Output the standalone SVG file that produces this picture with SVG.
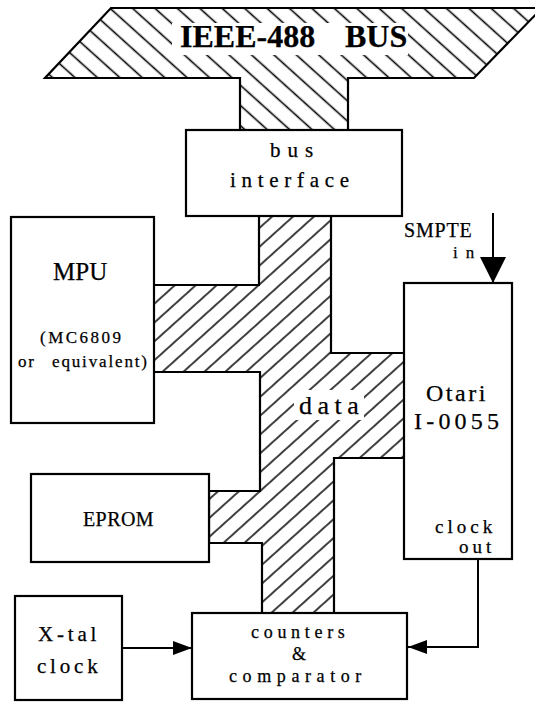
<svg xmlns="http://www.w3.org/2000/svg" width="535" height="702" viewBox="0 0 535 702">
<style>
  .box{fill:#fff;stroke:#000;stroke-width:2.2}
  text{font-family:'Liberation Serif','DejaVu Serif',serif;fill:#000;stroke:#000;stroke-width:0.25}
  .outline{stroke:#000;stroke-width:2.2;stroke-linejoin:miter}
  .wire{fill:none;stroke:#000;stroke-width:2}
</style>
<defs>
  <pattern id="hatchBus" patternUnits="userSpaceOnUse" width="15" height="15" patternTransform="rotate(42)">
    <line x1="-1" y1="7.5" x2="16" y2="7.5" stroke="#000" stroke-width="1.6"/>
  </pattern>
  <pattern id="hatchData" patternUnits="userSpaceOnUse" width="14" height="14" patternTransform="rotate(-42)">
    <line x1="-1" y1="7" x2="15" y2="7" stroke="#000" stroke-width="1.5"/>
  </pattern>
  <marker id="arr" markerUnits="userSpaceOnUse" viewBox="0 0 19 14" refX="19" refY="7" markerWidth="19" markerHeight="14" orient="auto">
    <path d="M0,0 L19,7 L0,14 z" fill="#000"/>
  </marker>
  <marker id="arrBig" markerUnits="userSpaceOnUse" viewBox="0 0 26 26" refX="26" refY="13" markerWidth="26" markerHeight="26" orient="auto">
    <path d="M0,0 L26,13 L0,26 z" fill="#000"/>
  </marker>
</defs>

<g id="ieee-bus">
  <polygon class="outline" fill="url(#hatchBus)" stroke-width="2.8" points="111,8 542,8 474,78 348,78 348,130 240,130 240,78 45,78"/>
  <rect x="172" y="23" width="236" height="32" fill="#fff"/>
  <text x="180" y="47" font-size="32" font-weight="bold">IEEE-488 <tspan x="345">BUS</tspan></text>
</g>

<g id="data-bus">
  <polygon class="outline" fill="url(#hatchData)" points="259,215 259,285 153,285 153,372 260,372 260,491 209,491 209,543 262,543 262,613 334,613 334,458 405,458 405,353 331,353 331,215"/>
  <rect x="294" y="390" width="70" height="30" fill="#fff"/>
  <text x="299" y="414" font-size="26" letter-spacing="5.5">data</text>
</g>

<g id="connectors">
  <line class="wire" x1="493" y1="213" x2="493" y2="283" stroke-width="3" marker-end="url(#arrBig)"/>
  <line class="wire" x1="122" y1="648" x2="192" y2="648" marker-end="url(#arr)"/>
  <polyline class="wire" points="478,559 478,647 408,647" marker-end="url(#arr)"/>
</g>

<g id="bus-interface">
  <rect class="box" x="186" y="130" width="216" height="86"/>
  <text x="270" y="157" font-size="21" letter-spacing="7">bus</text>
  <text x="230" y="187" font-size="21" letter-spacing="5.7">interface</text>
</g>

<g id="mpu">
  <rect class="box" x="11" y="217" width="143" height="206"/>
  <text x="53" y="280" font-size="25">MPU</text>
  <text x="40" y="343" font-size="17" letter-spacing="2.5">(MC6809</text>
  <text x="18" y="367" font-size="17" letter-spacing="1.85">or<tspan x="52">equivalent)</tspan></text>
</g>

<g id="eprom">
  <rect class="box" x="31" y="474" width="178" height="88"/>
  <text x="83" y="526" font-size="20" letter-spacing="0.4" stroke-width="0.4">EPROM</text>
</g>

<g id="otari">
  <rect class="box" x="404" y="283" width="108" height="276"/>
  <text x="426" y="401" font-size="24" letter-spacing="2.5">Otari</text>
  <text x="414" y="429" font-size="24" letter-spacing="4.2">I-0055</text>
  <text x="435" y="533" font-size="19" letter-spacing="4">clock</text>
  <text x="459" y="553" font-size="19" letter-spacing="4">out</text>
</g>

<g id="smpte-in">
  <text x="404" y="237" font-size="20" letter-spacing="0.8" stroke-width="0.4">SMPTE</text>
  <text x="453" y="258" font-size="17" letter-spacing="8">in</text>
</g>

<g id="xtal-clock">
  <rect class="box" x="15" y="596" width="107" height="104"/>
  <text x="38" y="641" font-size="21" letter-spacing="3.8">X-tal</text>
  <text x="37" y="673" font-size="21" letter-spacing="3.8">clock</text>
</g>

<g id="counters-comparator">
  <rect class="box" x="192" y="613" width="215" height="86"/>
  <text x="251" y="638" font-size="18" letter-spacing="4.7">counters</text>
  <text x="292" y="660" font-size="18">&amp;</text>
  <text x="229" y="682" font-size="18" letter-spacing="5.6">comparator</text>
</g>
</svg>
